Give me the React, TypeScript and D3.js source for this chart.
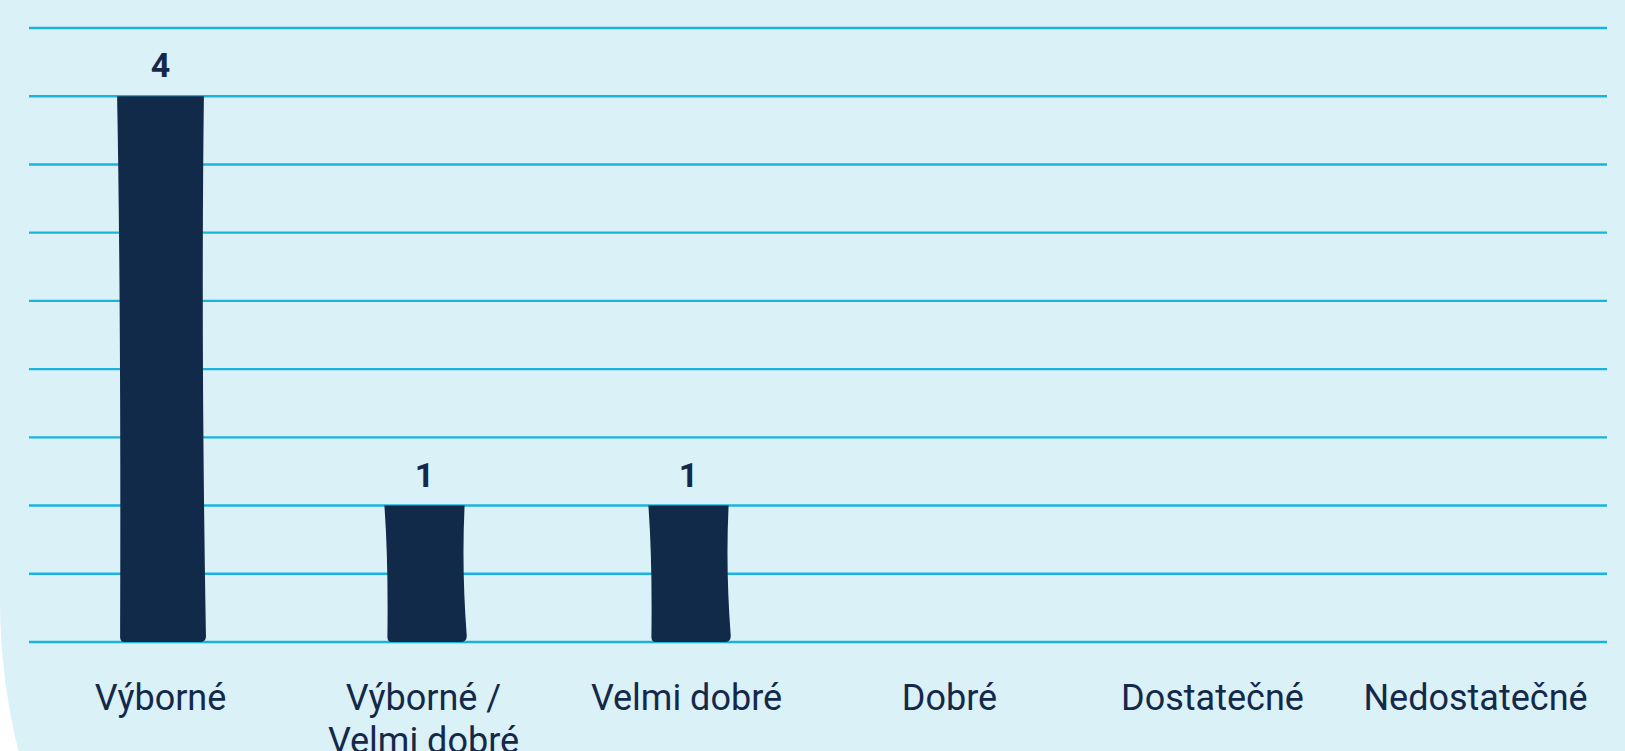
//@ts-nocheck
import React from "react";
import * as d3 from "d3";

// chart data
const categories = [
  ["Výborné"],
  ["Výborné /", "Velmi dobré"],
  ["Velmi dobré"],
  ["Dobré"],
  ["Dostatečné"],
  ["Nedostatečné"],
];
const counts = [4, 1, 1, 0, 0, 0];
const gridTicks = [0, 0.5, 1, 1.5, 2, 2.5, 3, 3.5, 4, 4.5];

const W = 1625;
const H = 751;
const margin = { top: 28, right: 18, bottom: 109, left: 29 };

const BG = "#dbf1f8";
const GRID = "#1ab3de";
const NAVY = "#122a4a";
const TEXT = "#14294a";

// hand drawn look: [width factor, x shift] per bar
const sketch = [
  [0.33, 0],
  [0.305, 1],
  [0.305, 2],
];

function sketchBar(x0, x1, yt, yb) {
  const h = yb - yt;
  const p = d3.path();
  p.moveTo(x0, yt);
  p.lineTo(x1, yt);
  p.quadraticCurveTo(x1 - 3, yt + h * 0.45, x1 + 2, yb - 8);
  p.quadraticCurveTo(x1 + 3, yb, x1 - 4, yb);
  p.lineTo(x0 + 7, yb);
  p.quadraticCurveTo(x0 + 3, yb, x0 + 3, yb - 5);
  p.quadraticCurveTo(x0 + 4, yt + h * 0.4, x0, yt);
  p.closePath();
  return p.toString();
}

export default function App() {
  const x = d3
    .scaleBand()
    .domain(categories.map((_, i) => String(i)))
    .range([margin.left, W - margin.right])
    .paddingInner(0)
    .paddingOuter(0);
  const y = d3
    .scaleLinear()
    .domain([0, 4.5])
    .range([H - margin.bottom, margin.top]);

  return (
    <svg
      width={W}
      height={H}
      style={{ position: "absolute", left: 0, top: 0, background: "#ffffff" }}
    >
      <path d={`M0,0H${W}V${H}H18.4A630,630 0 0 1 0,600Z`} fill={BG} />
      {gridTicks.map((t) => (
        <line
          key={t}
          x1={margin.left}
          x2={W - margin.right}
          y1={y(t)}
          y2={y(t)}
          stroke={GRID}
          strokeWidth={2.4}
        />
      ))}
      {counts.map((v, i) => {
        if (!v) return null;
        const [wf, dx] = sketch[i] || [0.3, 0];
        const barW = x.bandwidth() * wf;
        const cx = x(String(i)) + x.bandwidth() / 2 + dx;
        return (
          <g key={i}>
            <path
              d={sketchBar(cx - barW / 2, cx + barW / 2, y(v), y(0))}
              fill={NAVY}
            />
            <text
              x={cx}
              y={y(v) - 19}
              textAnchor="middle"
              fontFamily="Roboto, sans-serif"
              fontWeight={700}
              fontSize={34}
              fill={TEXT}
            >
              {v}
            </text>
          </g>
        );
      })}
      {categories.map((lines, i) => {
        const cx = x(String(i)) + x.bandwidth() / 2;
        return (
          <text
            key={i}
            x={cx}
            y={y(0) + 68}
            textAnchor="middle"
            fontFamily="Roboto, sans-serif"
            fontSize={36}
            fill={TEXT}
          >
            {lines.map((l, j) => (
              <tspan key={j} x={cx} dy={j === 0 ? 0 : 43}>
                {l}
              </tspan>
            ))}
          </text>
        );
      })}
    </svg>
  );
}
